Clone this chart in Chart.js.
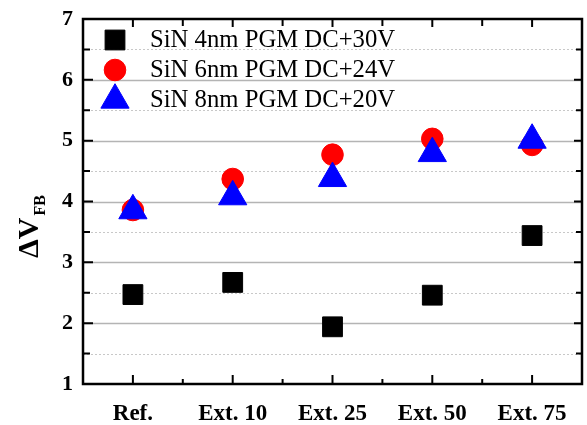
<!DOCTYPE html>
<html>
<head>
<meta charset="utf-8">
<script src="https://cdn.jsdelivr.net/npm/chart.js@4.4.0/dist/chart.umd.min.js"></script>
<style>
html,body{margin:0;padding:0;background:#fff;}
#wrap{width:587px;height:425px;position:relative;}
</style>
</head>
<body>
<div id="wrap"><canvas id="c" width="587" height="425"></canvas></div>
<script>
const categories = ['Ref.', 'Ext. 10', 'Ext. 25', 'Ext. 50', 'Ext. 75'];
const seriesLabels = ['SiN 4nm PGM DC+30V', 'SiN 6nm PGM DC+24V', 'SiN 8nm PGM DC+20V'];
const sin4nm = [2.47, 2.67, 1.94, 2.46, 3.44];
const sin6nm = [3.86, 4.37, 4.77, 5.03, 4.93];
const sin8nm = [3.85, 4.08, 4.38, 4.79, 5.01];
const yTickLabels = ['1', '2', '3', '4', '5', '6', '7'];

const FONT = '"Liberation Serif", "Times New Roman", serif';

const styles = [
  {color: '#000000', pointStyle: 'rect', radius: 14},
  {color: '#ff0000', pointStyle: 'circle', radius: 10.8},
  {color: '#0000ff', pointStyle: 'triangle', radius: 16.3}
];

const frameAndGrid = {
  id: 'frameAndGrid',
  beforeDatasetsDraw(chart) {
    const {ctx, chartArea: a, scales: {x, y}} = chart;
    ctx.save();
    for (let v = 1.5; v < 7; v += 0.5) {
      const py = Math.round(y.getPixelForValue(v)) + 0.5;
      ctx.beginPath();
      if (Number.isInteger(v)) {
        ctx.setLineDash([]);
        ctx.strokeStyle = '#b4b4b4';
        ctx.lineWidth = 1.5;
      } else {
        ctx.setLineDash([2, 2]);
        ctx.strokeStyle = '#c8c8c8';
        ctx.lineWidth = 1;
      }
      ctx.moveTo(a.left, py);
      ctx.lineTo(a.right, py);
      ctx.stroke();
    }
    ctx.restore();
  },
  afterDraw(chart) {
    const {ctx, chartArea: a, scales: {x, y}} = chart;
    ctx.save();
    ctx.strokeStyle = '#000';
    ctx.setLineDash([]);
    ctx.lineWidth = 2;
    for (let v = 1.5; v < 7; v += 0.5) {
      const py = y.getPixelForValue(v);
      const maj = Number.isInteger(v);
      ctx.beginPath();
      ctx.moveTo(a.left, py); ctx.lineTo(a.left + (maj ? 10 : 7), py);
      ctx.moveTo(a.right, py); ctx.lineTo(a.right - (maj ? 8 : 6), py);
      ctx.stroke();
    }
    const n = categories.length;
    for (let i = 0; i < n; i++) {
      const px = x.getPixelForValue(i);
      ctx.beginPath();
      ctx.moveTo(px, a.bottom); ctx.lineTo(px, a.bottom - 9);
      ctx.moveTo(px, a.top); ctx.lineTo(px, a.top + 8);
      ctx.stroke();
      if (i < n - 1) {
        const mx = (x.getPixelForValue(i) + x.getPixelForValue(i + 1)) / 2;
        ctx.beginPath();
        ctx.moveTo(mx, a.bottom); ctx.lineTo(mx, a.bottom - 5);
        ctx.moveTo(mx, a.top); ctx.lineTo(mx, a.top + 7);
        ctx.stroke();
      }
    }
    ctx.lineWidth = 2.5;
    ctx.strokeRect(a.left, a.top, a.right - a.left, a.bottom - a.top);
    const rows = [40, 70, 100];
    chart.data.datasets.forEach((ds, i) => {
      const st = styles[i];
      ctx.fillStyle = st.color;
      ctx.strokeStyle = st.color;
      ctx.lineWidth = 1;
      Chart.helpers.drawPoint(ctx, {pointStyle: st.pointStyle, radius: st.radius, rotation: 0, borderWidth: 1}, 115, rows[i]);
      ctx.fillStyle = '#000';
      ctx.font = '24.7px ' + FONT;
      ctx.textAlign = 'left';
      ctx.textBaseline = 'middle';
      ctx.fillText(ds.label, 150, rows[i] + 1);
    });
    ctx.translate(38, 258);
    ctx.rotate(-Math.PI / 2);
    ctx.fillStyle = '#000';
    ctx.textAlign = 'left';
    ctx.textBaseline = 'alphabetic';
    ctx.font = 'bold 30px ' + FONT;
    ctx.fillText('\u0394V', 0, 0);
    const w = ctx.measureText('\u0394V').width;
    ctx.font = 'bold 16px ' + FONT;
    ctx.fillText('FB', w + 2, 7);
    ctx.restore();
  }
};

const datasets = [sin4nm, sin6nm, sin8nm].map((vals, i) => ({
  label: seriesLabels[i],
  data: vals,
  showLine: false,
  pointStyle: styles[i].pointStyle,
  pointRadius: styles[i].radius,
  pointHoverRadius: styles[i].radius,
  backgroundColor: styles[i].color,
  borderColor: styles[i].color,
  pointBorderWidth: 1,
  order: 2 - i
}));

new Chart(document.getElementById('c'), {
  type: 'line',
  data: {labels: categories, datasets},
  options: {
    responsive: false,
    animation: false,
    events: [],
    layout: {autoPadding: false, padding: {left: 0, right: 5, top: 19, bottom: 0}},
    plugins: {legend: {display: false}, tooltip: {enabled: false}},
    scales: {
      x: {
        type: 'category',
        offset: true,
        grid: {display: false, drawTicks: false},
        border: {display: false},
        ticks: {
          color: '#000',
          font: {family: FONT, size: 23, weight: 'bold'},
          padding: 16,
          maxRotation: 0,
          autoSkip: false
        },
        afterFit(s) { s.height = 41; s.paddingLeft = 0; s.paddingRight = 0; }
      },
      y: {
        min: 1, max: 7,
        grid: {display: false, drawTicks: false},
        border: {display: false},
        ticks: {
          stepSize: 0.5,
          autoSkip: false,
          color: '#000',
          font: {family: FONT, size: 22, weight: 'bold'},
          padding: 10,
          callback: (v) => Number.isInteger(v) ? yTickLabels[v - 1] : ''
        },
        afterFit(s) { s.width = 83; s.paddingTop = 0; s.paddingBottom = 0; }
      }
    }
  },
  plugins: [frameAndGrid]
});
</script>
</body>
</html>
